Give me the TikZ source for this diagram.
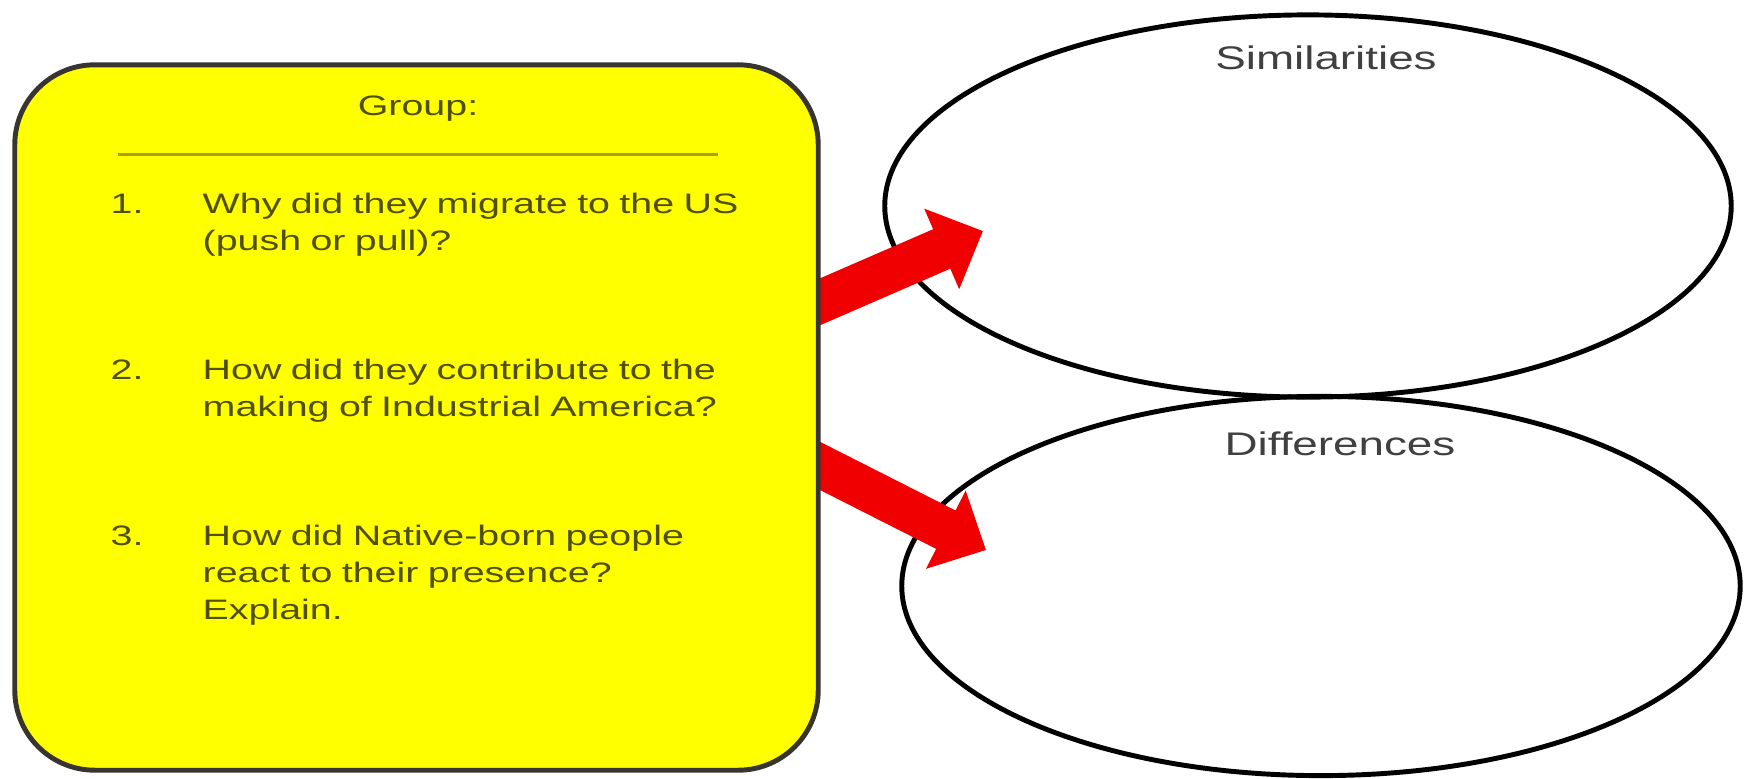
\documentclass[tikz,border=0pt]{standalone}
\usepackage{fontspec}
\setmainfont{Liberation Sans}[FakeStretch=1.4]
\usetikzlibrary{shapes.geometric,arrows.meta,calc}

\pgfdeclarelayer{ovals}
\pgfdeclarelayer{arrows}
\pgfsetlayers{ovals,arrows,main}

\definecolor{boxyellow}{RGB}{255,255,0}
\definecolor{boxtext}{RGB}{80,80,0}
\definecolor{ruleolive}{RGB}{170,160,0}
\definecolor{arrowred}{RGB}{240,0,0}

\tikzset{
  groupbox/.style={draw=black!90!yellow, fill=boxyellow, line width=1.4pt,
                   rounded corners=0.8cm, minimum width=8.03cm,
                   minimum height=7.05cm, inner sep=0pt},
  oval/.style={ellipse, draw, line width=1.4pt, inner sep=0pt},
  head/.style={text=black!75, font=\fontsize{9.3}{11}\selectfont,
               anchor=base, inner sep=0pt},
  qnum/.style={text=boxtext, font=\fontsize{8}{10.6}\selectfont,
               anchor=base west, inner sep=0pt},
  qtext/.style={qnum, text width=6cm, align=left},
  bigarrow/.style={arrowred, line width=0.43cm,
                   -{Triangle[width=0.85cm 0, length=0.45cm 0]}}
}

\begin{document}
\begin{tikzpicture}[x=0.01cm, y=-0.01cm]
  \useasboundingbox (0,0) rectangle (1744,778);

  % group card
  \node[groupbox] (box) at (416.5,417.5) {};
  \node[qnum, anchor=base] (grp) at (418,115) {Group:};
  \draw[ruleolive, line width=0.85pt] (118,154) -- (718,154);
  \foreach \k/\y/\q in {1/213/{Why did they migrate to the US\\(push or pull)?},
                        2/379/{How did they contribute to the\\making of Industrial America?},
                        3/545/{How did Native-born people\\react to their presence?\\Explain.}} {
    \node[qnum] (n\k) at (110,\y) {\k.};
    \node[qtext] (q\k) at (202,\y) {\q};
  }

  % ovals
  \begin{pgfonlayer}{ovals}
    \node[oval, minimum width=8.46cm, minimum height=3.82cm] (sim) at (1308,206) {};
    \node[oval, minimum width=8.38cm, minimum height=3.79cm] (dif) at (1321,586) {};
  \end{pgfonlayer}
  \node[head] (simlbl) at (1326,69) {Similarities};
  \node[head] (diflbl) at (1340,455) {Differences};

  % arrows
  \begin{pgfonlayer}{arrows}
    \draw[bigarrow] ($(box.east)+(-38,-99.5)$) -- ($(sim.center)+(-325,25)$);
    \draw[bigarrow] ($(box.east)+(-38,29.5)$) -- ($(dif.center)+(-335,-36)$);
  \end{pgfonlayer}
\end{tikzpicture}
\end{document}
